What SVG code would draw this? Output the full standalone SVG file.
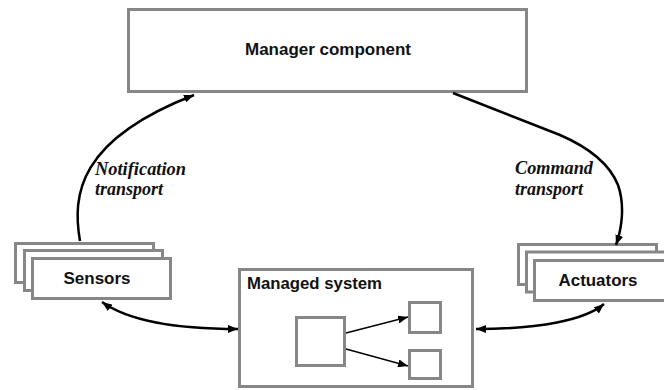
<svg xmlns="http://www.w3.org/2000/svg" width="664" height="390" viewBox="0 0 664 390">
<defs>
<style>
.box{fill:#fff;stroke:#878787;stroke-width:3}
.lbl{font-family:"Liberation Sans",Arial,sans-serif;font-weight:bold;fill:#111;font-size:16px}
.it{font-family:"Liberation Serif","Times New Roman",serif;font-weight:bold;font-style:italic;fill:#111;font-size:18px}
.con{fill:none;stroke:#000;stroke-width:2.5}
.thin{fill:none;stroke:#000;stroke-width:1.3}
</style>
<marker id="ah" viewBox="0 0 10 8" refX="10" refY="4" markerWidth="10" markerHeight="8" markerUnits="userSpaceOnUse" orient="auto-start-reverse">
<path d="M0,0 L10,4 L0,8 Z" fill="#000"/>
</marker>
<marker id="ahs" viewBox="0 0 10 8" refX="10" refY="4" markerWidth="10" markerHeight="8" markerUnits="userSpaceOnUse" orient="auto">
<path d="M0,0 L10,4 L0,8 Z" fill="#000"/>
</marker>
</defs>
<rect width="664" height="390" fill="#fff"/>
<g id="manager">
<rect class="box" x="128.5" y="9.5" width="398" height="82"/>
<text class="lbl" x="328" y="55" text-anchor="middle" textLength="166" lengthAdjust="spacingAndGlyphs">Manager component</text>
</g>
<g id="sensors">
<rect class="box" x="15.5" y="243.5" width="138" height="39"/>
<rect class="box" x="24.5" y="250.5" width="138" height="40"/>
<rect class="box" x="32.5" y="258.5" width="138" height="40"/>
<text class="lbl" x="97" y="284" text-anchor="middle" textLength="67" lengthAdjust="spacingAndGlyphs">Sensors</text>
</g>
<g id="actuators">
<rect class="box" x="518.5" y="244.5" width="138" height="40"/>
<rect class="box" x="526.5" y="252" width="140" height="40"/>
<rect class="box" x="534.5" y="260.5" width="140" height="40"/>
<text class="lbl" x="598" y="286" text-anchor="middle" textLength="79" lengthAdjust="spacingAndGlyphs">Actuators</text>
</g>
<g id="managed-system">
<rect class="box" x="239.5" y="269.5" width="233" height="117"/>
<text class="lbl" x="247" y="289" textLength="135" lengthAdjust="spacingAndGlyphs">Managed system</text>
<rect class="box" x="296.5" y="317.5" width="48" height="48"/>
<rect class="box" x="409.5" y="302.5" width="31" height="30"/>
<rect class="box" x="409.5" y="350.5" width="31" height="28"/>
</g>
<g id="connectors">
<path class="con" d="M80,241 C72,195 78,140 194,95" marker-end="url(#ah)"/>
<path class="con" d="M453,93 L560,135 C590,148 610,165 618,185 C625,205 622,228 616,245" marker-end="url(#ah)"/>
<path class="con" d="M102,302 C130,322 180,329 238,329" marker-start="url(#ah)" marker-end="url(#ah)"/>
<path class="con" d="M604,304 C585,320 540,329 476,329" marker-start="url(#ah)" marker-end="url(#ah)"/>
<path class="thin" d="M346,333 L408,317" marker-end="url(#ahs)"/>
<path class="thin" d="M346,349 L408,366" marker-end="url(#ahs)"/>
</g>
<g id="labels">
<text class="it" x="95" y="175" textLength="91" lengthAdjust="spacingAndGlyphs">Notification</text>
<text class="it" x="95" y="195">transport</text>
<text class="it" x="515" y="174" textLength="78" lengthAdjust="spacingAndGlyphs">Command</text>
<text class="it" x="515" y="195">transport</text>
</g>
</svg>
